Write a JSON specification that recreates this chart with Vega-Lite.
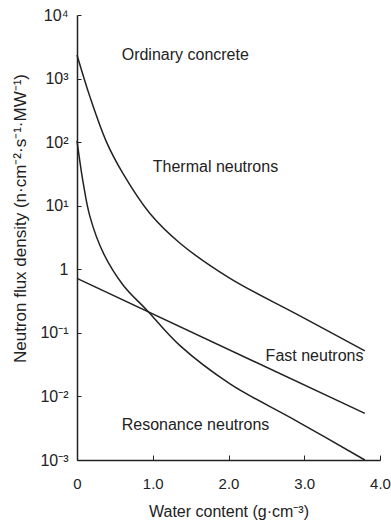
{
  "$schema": "https://vega.github.io/schema/vega-lite/v6.json",
  "width": 303,
  "height": 445,
  "autosize": "none",
  "padding": {"left": 77, "top": 15, "right": 11, "bottom": 66},
  "background": "white",
  "config": {
    "view": {"stroke": null},
    "font": "Liberation Sans",
    "axis": {
      "grid": false,
      "domainColor": "#222",
      "domainWidth": 1.5,
      "tickColor": "#222",
      "tickWidth": 1,
      "labelFont": "Liberation Sans",
      "labelFontSize": 16,
      "labelColor": "#222",
      "titleFont": "Liberation Sans",
      "titleFontSize": 16,
      "titleFontWeight": "normal",
      "titleColor": "#222"
    }
  },
  "datasets": {
    "curves": [
      {"series": "Thermal", "x": 0, "y": 2350},
      {"series": "Thermal", "x": 0.17, "y": 520},
      {"series": "Thermal", "x": 0.39, "y": 100},
      {"series": "Thermal", "x": 0.61, "y": 31.6},
      {"series": "Thermal", "x": 0.96, "y": 7.6},
      {"series": "Thermal", "x": 1.36, "y": 2.57},
      {"series": "Thermal", "x": 2.02, "y": 0.72},
      {"series": "Thermal", "x": 2.9, "y": 0.197},
      {"series": "Thermal", "x": 3.8, "y": 0.052},
      {"series": "Resonance", "x": 0, "y": 105},
      {"series": "Resonance", "x": 0.083, "y": 22.4},
      {"series": "Resonance", "x": 0.17, "y": 6.8},
      {"series": "Resonance", "x": 0.35, "y": 1.78},
      {"series": "Resonance", "x": 0.61, "y": 0.562},
      {"series": "Resonance", "x": 0.92, "y": 0.229},
      {"series": "Resonance", "x": 1.36, "y": 0.063},
      {"series": "Resonance", "x": 2.02, "y": 0.0158},
      {"series": "Resonance", "x": 2.9, "y": 0.0041},
      {"series": "Resonance", "x": 3.8, "y": 0.001},
      {"series": "Fast", "x": 0, "y": 0.72},
      {"series": "Fast", "x": 3.8, "y": 0.0054}
    ],
    "labels": [
      {"text": "Ordinary concrete", "x": 0.59, "y": 2350},
      {"text": "Thermal neutrons", "x": 1.0, "y": 41},
      {"text": "Fast neutrons", "x": 2.49, "y": 0.0432},
      {"text": "Resonance neutrons", "x": 0.59, "y": 0.00355}
    ]
  },
  "layer": [
    {
      "data": {"name": "curves"},
      "mark": {"type": "line", "color": "#222", "strokeWidth": 1.5, "interpolate": "catmull-rom"},
      "encoding": {
        "x": {
          "field": "x", "type": "quantitative",
          "scale": {"domain": [0, 4], "nice": false},
          "axis": {
            "values": [0, 1, 2, 3, 4],
            "labelExpr": "datum.value == 0 ? '0' : format(datum.value, '.1f')",
            "tickSize": -5,
            "labelPadding": 21,
            "labelFontSize": 15,
            "title": "Water content (g·cm⁻³)",
            "titlePadding": 12,
            "labelFlush": false
          }
        },
        "y": {
          "field": "y", "type": "quantitative",
          "scale": {"type": "log", "domain": [0.001, 10000], "nice": false},
          "axis": {
            "values": [0.001, 0.01, 0.1, 1, 10, 100, 1000, 10000],
            "labelExpr": "datum.value >= 5000 ? '10⁴' : datum.value >= 500 ? '10³' : datum.value >= 50 ? '10²' : datum.value >= 5 ? '10¹' : datum.value >= 0.5 ? '1' : datum.value >= 0.05 ? '10⁻¹' : datum.value >= 0.005 ? '10⁻²' : '10⁻³'",
            "tickSize": -4,
            "labelPadding": 13,
            "labelFlush": false,
            "title": "Neutron flux density (n·cm⁻²·s⁻¹·MW⁻¹)",
            "titleFontSize": 17,
            "titleX": -57,
            "titleY": 203,
            "titleBaseline": "middle",
            "titleAnchor": "middle"
          }
        },
        "detail": {"field": "series"}
      }
    },
    {
      "data": {"name": "labels"},
      "mark": {"type": "text", "align": "left", "baseline": "middle", "fontSize": 16, "color": "#222", "font": "Liberation Sans"},
      "encoding": {
        "x": {"field": "x", "type": "quantitative"},
        "y": {"field": "y", "type": "quantitative"},
        "text": {"field": "text"}
      }
    }
  ]
}
